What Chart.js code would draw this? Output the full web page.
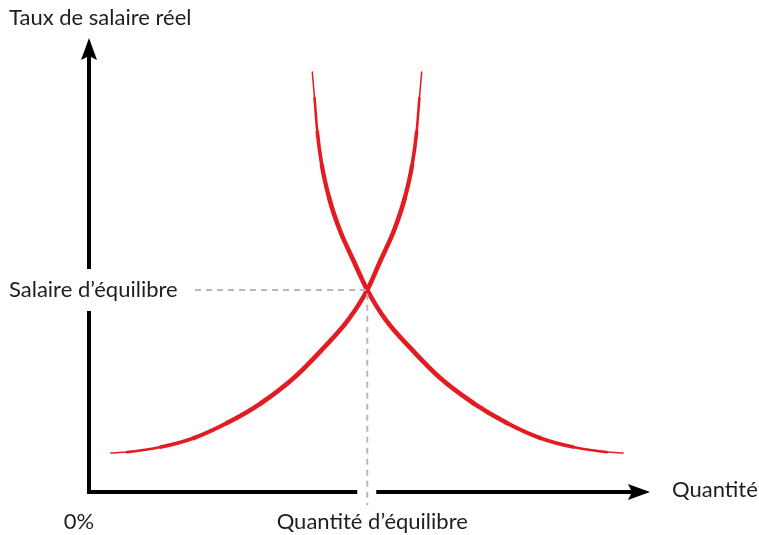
<!DOCTYPE html>
<html>
<head>
<meta charset="utf-8">
<script src="https://cdn.jsdelivr.net/npm/chart.js@4/dist/chart.umd.min.js"></script>
<style>
  body { margin: 0; background: #fff; }
  #wrap { width: 759px; height: 535px; }
</style>
</head>
<body>
<div id="wrap"><canvas id="chart" width="759" height="535"></canvas></div>
<script>
// Demand curve (falling)
const demandQty = [39.8, 40.2, 40.7, 41.5, 42.8, 44.7, 47.1, 49.6, 52.9, 57.6, 62.6, 68.5, 74.5, 80.4, 86.3, 92.3, 95.2];
const demandWage = [92.5, 86.8, 79.3, 72.0, 64.8, 57.7, 51.1, 44.5, 37.9, 31.3, 25.1, 19.6, 15.2, 11.9, 9.9, 8.8, 8.6];

// Supply curve (rising)
const supplyQty = [3.9, 6.8, 12.8, 18.7, 24.6, 30.7, 36.5, 41.5, 46.2, 49.6, 52.0, 54.4, 56.3, 57.6, 58.4, 58.9, 59.3];
const supplyWage = [8.6, 8.8, 9.9, 11.9, 15.2, 19.6, 25.1, 31.3, 37.9, 44.5, 51.1, 57.7, 64.8, 72.0, 79.3, 86.8, 92.5];

// Equilibrium guide lines
const eqQty = 49.6;
const eqWage = 44.5;
const guideQty = [18.9, eqQty, eqQty];
const guideWage = [eqWage, eqWage, -2.9];

const labels = {
  yTitle: 'Taux de salaire réel',
  xTitle: 'Quantité',
  origin: '0%',
  eqWage: 'Salaire d\u2019équilibre',
  eqQty: 'Quantité d\u2019équilibre'
};

const RED = '#e31b22';
const FONT = '22px Lato, "Open Sans", sans-serif';

// stroke width along the demand curve, from its top end to its bottom end
const demandWidths = [1.5, 2.6, 3.6, 4.3, 4.6, 4.6, 4.6, 4.6, 4.6, 4.6, 4.6, 4.5, 4.2, 3.6, 2.7, 1.6];
const supplyWidths = demandWidths.slice().reverse();

function toPoints(xs, ys) {
  return xs.map((x, i) => ({ x: x, y: ys[i] }));
}

// Draw the two axes with arrow heads, leaving gaps for the labels
const axesPlugin = {
  id: 'axes',
  beforeDatasetsDraw(chart) {
    const { ctx, chartArea: a, scales } = chart;
    const x0 = a.left, y0 = a.bottom;
    const yEq = scales.y.getPixelForValue(eqWage);
    const xEq = scales.x.getPixelForValue(eqQty);
    ctx.save();
    ctx.strokeStyle = '#000';
    ctx.fillStyle = '#000';
    ctx.lineWidth = 4;
    ctx.lineCap = 'butt';
    ctx.beginPath();
    // y axis
    ctx.moveTo(x0, y0 + 2);
    ctx.lineTo(x0, yEq + 21);
    ctx.moveTo(x0, yEq - 21);
    ctx.lineTo(x0, a.top + 16);
    // x axis
    ctx.moveTo(x0 - 2, y0);
    ctx.lineTo(xEq - 10, y0);
    ctx.moveTo(xEq + 9, y0);
    ctx.lineTo(a.right - 16, y0);
    ctx.stroke();
    // arrow heads
    ctx.beginPath();
    ctx.moveTo(x0, a.top);
    ctx.lineTo(x0 + 8, a.top + 22);
    ctx.lineTo(x0, a.top + 18);
    ctx.lineTo(x0 - 8, a.top + 22);
    ctx.closePath();
    ctx.fill();
    ctx.beginPath();
    ctx.moveTo(a.right, y0);
    ctx.lineTo(a.right - 22, y0 - 8);
    ctx.lineTo(a.right - 18, y0);
    ctx.lineTo(a.right - 22, y0 + 8);
    ctx.closePath();
    ctx.fill();
    ctx.restore();
  },
  afterDraw(chart) {
    const { ctx, chartArea: a, scales } = chart;
    const yEq = scales.y.getPixelForValue(eqWage);
    const xEq = scales.x.getPixelForValue(eqQty);
    ctx.save();
    ctx.fillStyle = '#1e1e1e';
    ctx.font = FONT;
    ctx.textBaseline = 'middle';
    ctx.textAlign = 'left';
    ctx.fillText(labels.yTitle, 9, 18);
    ctx.fillText(labels.eqWage, 9, yEq);
    ctx.fillText(labels.xTitle, a.right + 22, a.bottom - 2);
    ctx.textAlign = 'center';
    ctx.fillText(labels.origin, a.left - 10, a.bottom + 30);
    ctx.fillText(labels.eqQty, xEq + 5, a.bottom + 30);
    ctx.restore();
  }
};

function curve(label, xs, ys, widths) {
  return {
    label: label,
    data: toPoints(xs, ys),
    showLine: true,
    borderColor: RED,
    borderWidth: 4.6,
    borderCapStyle: 'round',
    borderJoinStyle: 'round',
    pointRadius: 0,
    cubicInterpolationMode: 'monotone',
    segment: { borderWidth: ctx => widths[ctx.p0DataIndex] }
  };
}

new Chart(document.getElementById('chart'), {
  type: 'scatter',
  data: {
    datasets: [
      {
        label: 'Guides',
        data: toPoints(guideQty, guideWage),
        showLine: true,
        borderColor: '#b8b8b8',
        borderWidth: 2,
        borderDash: [6, 5],
        pointRadius: 0,
        tension: 0,
        clip: false
      },
      curve('Offre', supplyQty, supplyWage, supplyWidths),
      curve('Demande', demandQty, demandWage, demandWidths)
    ]
  },
  options: {
    responsive: false,
    animation: false,
    layout: { padding: { left: 89, right: 109, top: 38, bottom: 43 } },
    plugins: { legend: { display: false }, tooltip: { enabled: false } },
    scales: {
      x: { type: 'linear', min: 0, max: 100, display: false },
      y: { type: 'linear', min: 0, max: 100, display: false }
    }
  },
  plugins: [axesPlugin]
});
</script>
</body>
</html>
